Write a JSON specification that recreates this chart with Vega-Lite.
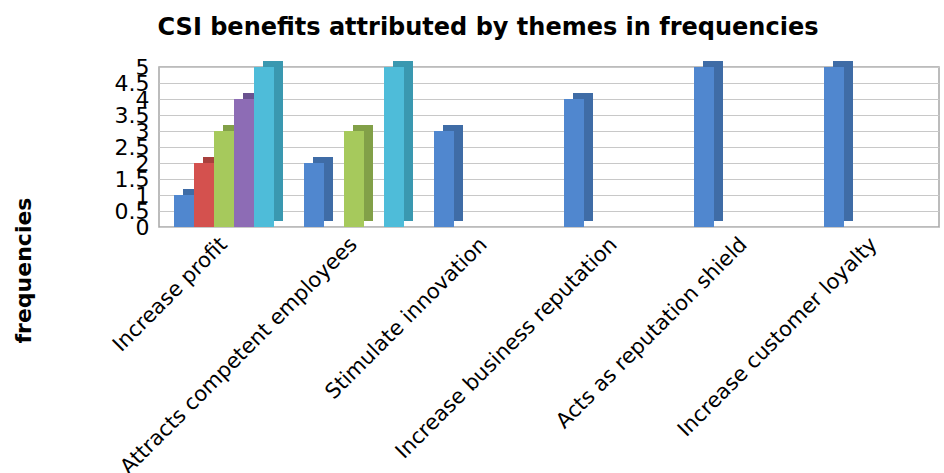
{
  "$schema": "https://vega.github.io/schema/vega-lite/v6.json",
  "width": 780,
  "height": 160,
  "autosize": {"type": "none"},
  "padding": {"left": 159, "top": 67, "right": 5, "bottom": 246},
  "background": "white",
  "title": {
    "text": "CSI benefits attributed by themes in frequencies",
    "font": "DejaVu Sans",
    "fontSize": 24,
    "fontWeight": "bold",
    "color": "#000000",
    "anchor": "middle",
    "dx": -61,
    "offset": 16
  },
  "config": {
    "view": {"stroke": "#A6A6A6", "strokeWidth": 1.5},
    "axis": {"domain": false, "ticks": false}
  },
  "data": {
    "values": [
      {"theme": "Increase profit", "series": "S1", "value": 1},
      {"theme": "Increase profit", "series": "S2", "value": 2},
      {"theme": "Increase profit", "series": "S3", "value": 3},
      {"theme": "Increase profit", "series": "S4", "value": 4},
      {"theme": "Increase profit", "series": "S5", "value": 5},
      {"theme": "Attracts competent employees", "series": "S1", "value": 2},
      {"theme": "Attracts competent employees", "series": "S3", "value": 3},
      {"theme": "Attracts competent employees", "series": "S5", "value": 5},
      {"theme": "Stimulate  innovation", "series": "S1", "value": 3},
      {"theme": "Increase business reputation", "series": "S1", "value": 4},
      {"theme": "Acts as reputation shield", "series": "S1", "value": 5},
      {"theme": "Increase customer loyalty", "series": "S1", "value": 5}
    ]
  },
  "encoding": {
    "x": {
      "field": "theme",
      "type": "nominal",
      "sort": null,
      "scale": {"paddingInner": 0.2308, "paddingOuter": 0.1154},
      "axis": {
        "title": null,
        "labelAngle": -45,
        "labelAlign": "right",
        "labelBaseline": "middle",
        "labelFont": "DejaVu Sans",
        "labelFontSize": 21,
        "labelColor": "#000000",
        "labelPadding": 14,
        "labelLimit": 500,
        "grid": false
      }
    },
    "y": {
      "field": "value",
      "type": "quantitative",
      "scale": {"domain": [0, 5], "nice": false},
      "axis": {
        "values": [0, 0.5, 1, 1.5, 2, 2.5, 3, 3.5, 4, 4.5, 5],
        "format": "~g",
        "labelFont": "DejaVu Sans",
        "labelFontSize": 22,
        "labelColor": "#000000",
        "labelOverlap": false,
        "labelFlush": false,
        "labelPadding": 10,
        "labelBaseline": "middle",
        "grid": true,
        "gridColor": "#C8C8C8",
        "gridWidth": 1.2,
        "title": "frequencies",
        "titleFont": "DejaVu Sans",
        "titleFontSize": 22,
        "titleFontWeight": "bold",
        "titleColor": "#000000",
        "titleAngle": -90,
        "titleAlign": "center",
        "titleBaseline": "middle",
        "titleX": -136,
        "titleY": 203
      }
    }
  },
  "layer": [
    {
      "mark": {"type": "bar", "yOffset": -6},
      "encoding": {
        "xOffset": {
          "field": "series",
          "type": "nominal",
          "scale": {"domain": ["S1", "S2", "S3", "S4", "S5"], "range": [9, 109], "paddingInner": 0, "paddingOuter": 0}
        },
        "color": {
          "field": "series",
          "type": "nominal",
          "scale": {"domain": ["S1", "S2", "S3", "S4", "S5"], "range": ["#3F6CA6", "#A8403D", "#82A048", "#6A5290", "#3A98B0"]},
          "legend": null
        }
      }
    },
    {
      "mark": {"type": "bar"},
      "encoding": {
        "xOffset": {
          "field": "series",
          "type": "nominal",
          "scale": {"domain": ["S1", "S2", "S3", "S4", "S5"], "range": [0, 100], "paddingInner": 0, "paddingOuter": 0}
        },
        "color": {
          "field": "series",
          "type": "nominal",
          "scale": {"domain": ["S1", "S2", "S3", "S4", "S5"], "range": ["#5087CF", "#D4514E", "#A6C95C", "#8D6CB5", "#4EBCD9"]},
          "legend": null
        }
      }
    }
  ],
  "resolve": {"scale": {"color": "independent", "xOffset": "independent"}}
}
